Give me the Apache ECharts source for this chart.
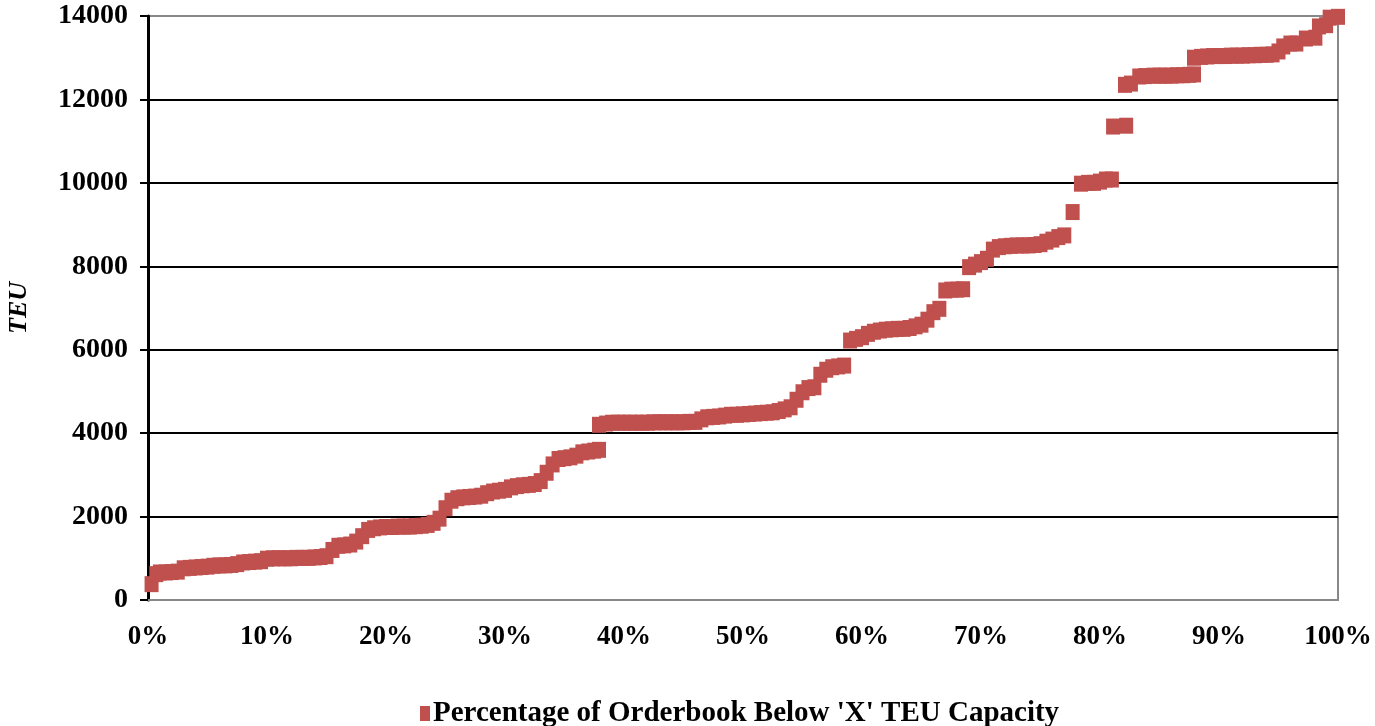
<!DOCTYPE html>
<html>
<head>
<meta charset="utf-8">
<script src="https://cdn.jsdelivr.net/npm/echarts@6.0.0/dist/echarts.min.js"></script>
<style>
  html,body{margin:0;padding:0;background:#fff;}
  #main{width:1375px;height:726px;}
</style>
</head>
<body>
<div id="main"></div>
<script>
// share of orderbook (%) and vessel size (TEU)
const pct = [
  0.3, 0.7, 1.0, 1.5, 2.0, 2.5, 3.0, 3.5, 4.0, 4.5, 5.0, 5.5, 6.0, 6.5, 7.0, 7.5, 8.0, 8.5, 9.0, 9.5,
  10.0, 10.5, 11.0, 11.5, 12.0, 12.5, 13.0, 13.5, 14.0, 14.5, 15.0, 15.5, 16.0, 16.5, 17.0, 17.5, 18.0, 18.5, 19.0, 19.5,
  20.0, 20.5, 21.0, 21.5, 22.0, 22.5, 23.0, 23.5, 24.0, 24.5, 25.0, 25.5, 26.0, 26.5, 27.0, 27.5, 28.0, 28.5, 29.0, 29.5,
  30.0, 30.5, 31.0, 31.5, 32.0, 32.5, 33.0, 33.5, 34.0, 34.5, 35.0, 35.5, 36.0, 36.5, 37.0, 37.5, 37.9, 37.9, 38.5, 39.0,
  39.5, 40.0, 40.5, 41.0, 41.5, 42.0, 42.5, 43.0, 43.5, 44.0, 44.5, 45.0, 45.5, 46.0, 46.5, 47.0, 47.5, 48.0, 48.5, 49.0,
  49.5, 50.0, 50.5, 51.0, 51.5, 52.0, 52.5, 53.0, 53.5, 54.0, 54.5, 55.0, 55.5, 56.0, 56.5, 57.0, 57.5, 58.0, 58.5, 59.0,
  59.5, 60.0, 60.5, 61.0, 61.5, 62.0, 62.5, 63.0, 63.5, 64.0, 64.5, 65.0, 65.5, 66.0, 66.5, 67.0, 67.5, 68.0, 68.5, 69.0,
  69.5, 70.0, 70.5, 71.0, 71.5, 72.0, 72.5, 73.0, 73.5, 74.0, 74.5, 75.0, 75.5, 76.0, 76.5, 77.0, 77.7, 78.4, 79.0, 79.5,
  80.0, 80.5, 81.0, 81.1, 82.2, 82.1, 82.6, 83.3, 83.8, 84.5, 85.0, 85.5, 86.0, 86.5, 87.0, 87.5, 87.9, 87.9, 88.5, 89.0,
  89.5, 90.0, 90.5, 91.0, 91.5, 92.0, 92.5, 93.0, 93.5, 94.0, 94.5, 95.0, 95.4, 96.0, 96.5, 97.3, 98.1, 98.4, 99.0, 99.3,
  100.0
];
const teu = [
  380, 620, 660, 660, 670, 680, 760, 770, 780, 790, 800, 820, 830, 830, 840, 860, 900, 910, 920, 930,
  990, 1000, 1000, 1000, 1000, 1010, 1010, 1010, 1020, 1030, 1050, 1200, 1300, 1310, 1330, 1400, 1530, 1680, 1720, 1740,
  1750, 1750, 1760, 1760, 1760, 1770, 1780, 1800, 1850, 1950, 2200, 2380, 2440, 2460, 2470, 2480, 2500, 2560, 2600, 2620,
  2640, 2700, 2730, 2750, 2760, 2780, 2850, 3050, 3250, 3380, 3400, 3420, 3460, 3540, 3560, 3580, 3600, 4200, 4230, 4250,
  4250, 4250, 4250, 4250, 4250, 4250, 4260, 4260, 4260, 4260, 4260, 4260, 4270, 4270, 4330, 4380, 4390, 4400, 4420, 4440,
  4440, 4450, 4460, 4470, 4480, 4490, 4500, 4530, 4570, 4620, 4800, 4980, 5080, 5100, 5400, 5520, 5580, 5600, 5620, 6220,
  6260, 6300, 6380, 6430, 6460, 6480, 6490, 6500, 6500, 6520, 6560, 6600, 6720, 6900, 6980, 7420, 7440, 7440, 7450, 7980,
  8040, 8100, 8180, 8400, 8460, 8480, 8490, 8500, 8500, 8500, 8510, 8530, 8590, 8640, 8700, 8740, 9300, 9980, 10000, 10000,
  10030, 10080, 10080, 11350, 11370, 12350, 12380, 12550, 12560, 12570, 12570, 12570, 12570, 12580, 12580, 12590, 12600, 13000, 13020, 13030,
  13040, 13040, 13040, 13050, 13050, 13050, 13060, 13060, 13070, 13070, 13080, 13150, 13270, 13340, 13340, 13460, 13480, 13750, 13780, 13960,
  13980
];
const xTicks = [0, 10, 20, 30, 40, 50, 60, 70, 80, 90, 100];
const yTicks = [0, 2000, 4000, 6000, 8000, 10000, 12000, 14000];
const seriesName = "Percentage of Orderbook Below 'X' TEU Capacity";

const points = pct.map((p, i) => [p, teu[i]]);
const font = 'Liberation Serif';

const chart = echarts.init(document.getElementById('main'));
chart.setOption({
  animation: false,
  backgroundColor: '#fff',
  grid: {
    left: 148, right: 37, top: 16, bottom: 126,
    containLabel: false,
    outerBoundsMode: 'none',
    show: true,
    borderColor: '#888',
    borderWidth: 2
  },
  legend: {
    left: 415, top: 694,
    icon: 'rect',
    itemWidth: 10, itemHeight: 15, itemGap: 0,
    textStyle: { fontFamily: font, fontWeight: 'bold', fontSize: 29, color: '#000', padding: [0, 0, 0, -2] },
    data: [seriesName]
  },
  xAxis: {
    type: 'value',
    min: xTicks[0], max: xTicks[xTicks.length - 1], interval: 10,
    axisLine: { show: true, lineStyle: { color: '#888', width: 2 } },
    axisTick: { show: false },
    splitLine: { show: false },
    axisLabel: {
      margin: 24,
      formatter: '{value}%',
      fontFamily: font, fontWeight: 'bold', fontSize: 27, color: '#000'
    }
  },
  yAxis: {
    type: 'value',
    min: yTicks[0], max: yTicks[yTicks.length - 1], interval: 2000,
    name: 'TEU',
    nameLocation: 'middle',
    nameGap: 116,
    nameRotate: 90,
    nameTextStyle: { fontFamily: font, fontWeight: 'bold', fontStyle: 'italic', fontSize: 26, color: '#000' },
    axisLine: { show: true, lineStyle: { color: '#000', width: 3 } },
    axisTick: { show: true, inside: false, length: 8, lineStyle: { color: '#000', width: 2 } },
    splitLine: { show: true, showMinLine: false, showMaxLine: false, lineStyle: { color: '#000', width: 2 } },
    axisLabel: {
      margin: 20,
      formatter: v => String(v),
      fontFamily: font, fontWeight: 'bold', fontSize: 28, color: '#000'
    }
  },
  series: [{
    name: seriesName,
    type: 'scatter',
    symbol: 'rect',
    symbolSize: [14, 16],
    clip: false,
    itemStyle: { color: '#c0504d', opacity: 1 },
    data: points
  }]
});
</script>
</body>
</html>
